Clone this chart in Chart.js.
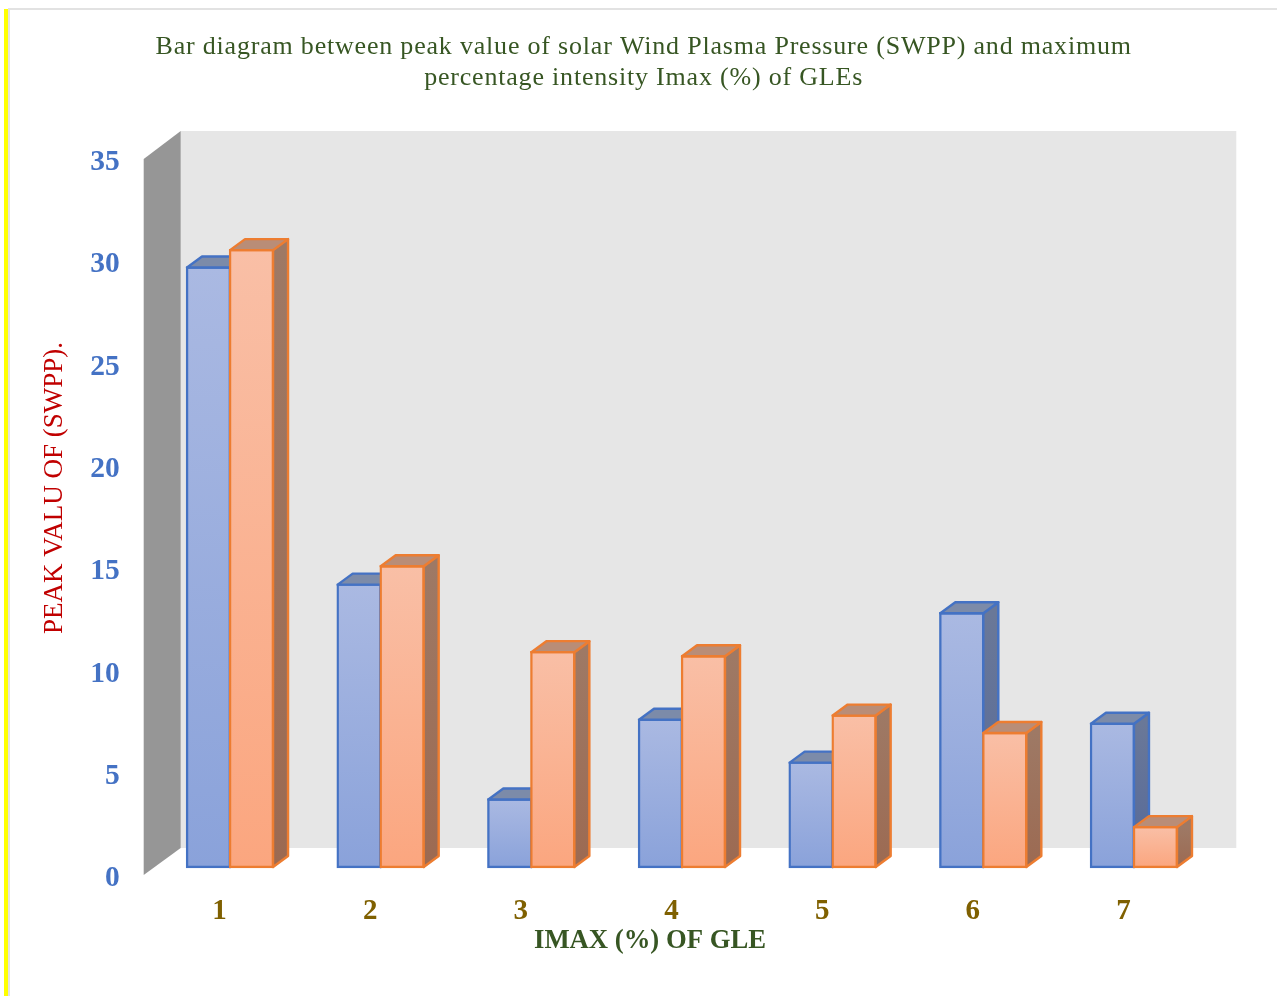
<!DOCTYPE html>
<html><head><meta charset="utf-8">
<style>
html,body{margin:0;padding:0;background:#fff;width:1277px;height:996px;overflow:hidden}
#strip{position:absolute;left:4px;top:9px;width:4px;height:987px;background:#ffff00}
#edgeL{position:absolute;left:8px;top:9px;width:2px;height:987px;background:#e2e2e2}
#edgeT{position:absolute;left:8px;top:8px;width:1269px;height:2px;background:#e2e2e2}
canvas{position:absolute;left:0;top:0}
</style>
<script src="https://cdn.jsdelivr.net/npm/chart.js@4"></script>
</head><body>
<div id="strip"></div><div id="edgeL"></div><div id="edgeT"></div>
<canvas id="c" width="1277" height="996"></canvas>
<script>
const categories = ['1','2','3','4','5','6','7'];
const seriesBlue = [29.3, 13.8, 3.3, 7.2, 5.1, 12.4, 7.0];
const seriesOrange = [30.15, 14.7, 10.5, 10.3, 7.4, 6.55, 1.95];
const titleLines = ['Bar diagram between peak value of solar Wind Plasma Pressure (SWPP) and maximum','percentage intensity Imax (%) of GLEs'];
const yTitle = 'PEAK VALU OF (SWPP).';
const xTitle = 'IMAX (%) OF GLE';
const DEPTH_X = 15, DEPTH_Y = 11;

const serif = "'Liberation Serif'";

function frontGradient(ctx, light, dark){
  const c = ctx.chart, y = c.scales.y;
  if (!y || ctx.type !== 'data') return dark;
  const p0 = y.getPixelForValue(ctx.raw), p1 = y.getPixelForValue(0);
  if (!isFinite(p0) || !isFinite(p1)) return dark;
  const g = c.ctx.createLinearGradient(0, p0, 0, p1);
  g.addColorStop(0, light); g.addColorStop(1, dark);
  return g;
}
function poly(c, pts, fill, stroke){
  c.beginPath();
  pts.forEach((p,i)=> i ? c.lineTo(p[0],p[1]) : c.moveTo(p[0],p[1]));
  c.closePath();
  c.fillStyle = fill; c.fill();
  if (stroke){ c.strokeStyle = stroke; c.lineWidth = 2.4; c.lineJoin='round'; c.stroke(); }
}
const shiftTitle = (dx, dy) => scale => {
  if (scale._shifted) return;
  scale._shifted = true;
  const o = scale.drawTitle;
  scale.drawTitle = function(){ const k=this.ctx; k.save(); k.translate(dx,dy); o.call(this); k.restore(); };
};
const faces = [
  {top:'#7c8ba9', sideA:'#6a7898', sideB:'#55699a', line:'#4472C4'},
  {top:'#b98d77', sideA:'#9e7965', sideB:'#9c6a52', line:'#ED7D31'}
];
function drawFaces(chart, meta, index){
  const c = chart.ctx, f = faces[index];
  c.save();
  meta.data.forEach(b=>{
    const l = b.x-b.width/2, r = b.x+b.width/2, t = b.y, base = b.base;
    const g = c.createLinearGradient(0,t,0,base);
    g.addColorStop(0,f.sideA); g.addColorStop(1,f.sideB);
    poly(c,[[r,t],[r+DEPTH_X,t-DEPTH_Y],[r+DEPTH_X,base-DEPTH_Y],[r,base]],g,f.line);
    poly(c,[[l,t],[l+DEPTH_X,t-DEPTH_Y],[r+DEPTH_X,t-DEPTH_Y],[r,t]],f.top,f.line);
  });
  c.restore();
}
const box3d = {
  id:'box3d',
  beforeDraw(chart){
    const tb = chart.titleBlock;
    if (tb && !tb._spaced){
      tb._spaced = true;
      const o = tb.draw;
      tb.draw = function(){ const k=chart.ctx; k.save(); k.letterSpacing='0.8px'; o.call(this); k.restore(); };
    }
  },
  beforeDatasetsDraw(chart){
    const c = chart.ctx, a = chart.chartArea;
    c.save();
    poly(c, [[a.left+26,a.top-20],[a.right+27,a.top-20],[a.right+27,a.bottom-19],[a.left+26,a.bottom-19]], '#e6e6e6');
    poly(c, [[a.left-11,a.top+8],[a.left+26,a.top-20],[a.left+26,a.bottom-19],[a.left-11,a.bottom+8]], '#969696');
    c.restore();
  },
  // Chart.js paints dataset 1 first; hold it back so the orange bars sit over the blue side faces.
  beforeDatasetDraw(chart, args){
    if (args.index === 1) return false;
  },
  afterDatasetDraw(chart, args){
    if (args.index !== 0) return;
    drawFaces(chart, args.meta, 0);
    const m1 = chart.getDatasetMeta(1);
    m1.controller.draw();
    drawFaces(chart, m1, 1);
  }
};
new Chart(document.getElementById('c'),{
  type:'bar',
  data:{labels:categories,datasets:[
    {label:'SWPP',data:seriesBlue,borderColor:'#4472C4',borderWidth:2.4,borderSkipped:false,clip:false,inflateAmount:1.2,
     backgroundColor:x=>frontGradient(x,'#AAB9E2','#8AA2DA'),categoryPercentage:0.571,barPercentage:1},
    {label:'Imax',data:seriesOrange,borderColor:'#ED7D31',borderWidth:2.4,borderSkipped:false,clip:false,inflateAmount:1.2,
     backgroundColor:x=>frontGradient(x,'#F9BFA6','#FBA67F'),categoryPercentage:0.571,barPercentage:1}
  ]},
  plugins:[box3d],
  options:{
    responsive:false,animation:false,
    layout:{padding:{left:78,right:67.7,top:0,bottom:0}},
    plugins:{
      legend:{display:false},tooltip:{enabled:false},
      title:{display:true,text:titleLines,color:'#375623',
        font:{family:serif,size:26,weight:'normal',lineHeight:1.19},padding:{top:32,bottom:57}}
    },
    scales:{
      x:{
        grid:{display:false,drawTicks:false},border:{display:false},
        ticks:{color:'#7F6000',font:{family:serif,size:29,weight:'bold'},padding:27,labelOffset:-10.5,maxRotation:0},
        title:{display:true,text:xTitle,color:'#375623',font:{family:serif,size:26.7,weight:'bold'},padding:{top:2,bottom:0}},
        afterFit(s){s.height=129;},
        afterUpdate:shiftTitle(-32,-39)
      },
      y:{
        min:0,max:35,
        grid:{display:false,drawTicks:false},border:{display:false},
        ticks:{stepSize:5,color:'#4472C4',font:{family:serif,size:29.5,weight:'bold'},padding:35,labelOffset:11.5},
        title:{display:true,text:yTitle,color:'#C00000',font:{family:serif,size:27,weight:'normal'},padding:{top:0,bottom:0}},
        afterFit(s){s.width=76.7;},
        afterUpdate:shiftTitle(-39,-21)
      }
    }
  }
});
</script>
</body></html>
